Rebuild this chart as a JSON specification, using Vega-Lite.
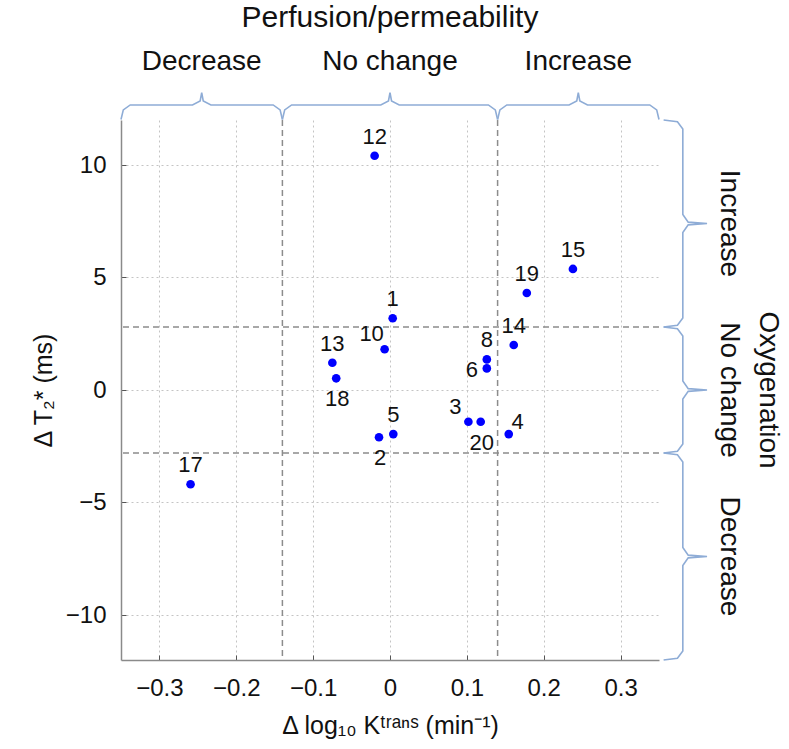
{
  "$schema": "https://vega.github.io/schema/vega-lite/v6.json",
  "width": 538,
  "height": 540,
  "autosize": {"type": "none"},
  "padding": {"left": 121, "top": 120, "right": 130, "bottom": 89},
  "background": "white",
  "config": {"font": "Liberation Sans", "view": {"stroke": null}},
  "datasets": {
    "pts": [
      {"id": "12", "dk": -0.020, "dt2": 10.41, "pos": "top"},
      {"id": "15", "dk": 0.238, "dt2": 5.38, "pos": "top"},
      {"id": "19", "dk": 0.178, "dt2": 4.31, "pos": "top"},
      {"id": "1", "dk": 0.0035, "dt2": 3.19, "pos": "top"},
      {"id": "14", "dk": 0.161, "dt2": 2.0, "pos": "top"},
      {"id": "10", "dk": -0.007, "dt2": 1.81, "pos": "topleft"},
      {"id": "8", "dk": 0.126, "dt2": 1.36, "pos": "top"},
      {"id": "6", "dk": 0.126, "dt2": 0.96, "pos": "left"},
      {"id": "13", "dk": -0.075, "dt2": 1.21, "pos": "top"},
      {"id": "18", "dk": -0.070, "dt2": 0.52, "pos": "bottom"},
      {"id": "3", "dk": 0.102, "dt2": -1.41, "pos": "topleft"},
      {"id": "20", "dk": 0.118, "dt2": -1.41, "pos": "bottom"},
      {"id": "4", "dk": 0.1545, "dt2": -1.96, "pos": "topright"},
      {"id": "5", "dk": 0.0043, "dt2": -1.96, "pos": "top"},
      {"id": "2", "dk": -0.0143, "dt2": -2.10, "pos": "bottom"},
      {"id": "17", "dk": -0.2595, "dt2": -4.19, "pos": "top"}
    ],
    "vthr": [{"dk": -0.14}, {"dk": 0.14}],
    "hthr": [{"dt2": -2.8}, {"dt2": 2.8}],
    "braces": [
      {"b": "T1", "o": 1, "dk": -0.35, "dt2": 12.02},
      {"b": "T1", "o": 2, "dk": -0.347, "dt2": 12.45},
      {"b": "T1", "o": 3, "dk": -0.338, "dt2": 12.67},
      {"b": "T1", "o": 4, "dk": -0.257, "dt2": 12.67},
      {"b": "T1", "o": 5, "dk": -0.247, "dt2": 12.85},
      {"b": "T1", "o": 6, "dk": -0.245, "dt2": 13.22},
      {"b": "T1", "o": 7, "dk": -0.243, "dt2": 12.85},
      {"b": "T1", "o": 8, "dk": -0.233, "dt2": 12.67},
      {"b": "T1", "o": 9, "dk": -0.152, "dt2": 12.67},
      {"b": "T1", "o": 10, "dk": -0.143, "dt2": 12.45},
      {"b": "T1", "o": 11, "dk": -0.14, "dt2": 12.02},
      {"b": "T2", "o": 1, "dk": -0.14, "dt2": 12.02},
      {"b": "T2", "o": 2, "dk": -0.137, "dt2": 12.45},
      {"b": "T2", "o": 3, "dk": -0.128, "dt2": 12.67},
      {"b": "T2", "o": 4, "dk": -0.012, "dt2": 12.67},
      {"b": "T2", "o": 5, "dk": -0.002, "dt2": 12.85},
      {"b": "T2", "o": 6, "dk": 0, "dt2": 13.22},
      {"b": "T2", "o": 7, "dk": 0.002, "dt2": 12.85},
      {"b": "T2", "o": 8, "dk": 0.012, "dt2": 12.67},
      {"b": "T2", "o": 9, "dk": 0.128, "dt2": 12.67},
      {"b": "T2", "o": 10, "dk": 0.137, "dt2": 12.45},
      {"b": "T2", "o": 11, "dk": 0.14, "dt2": 12.02},
      {"b": "T3", "o": 1, "dk": 0.14, "dt2": 12.02},
      {"b": "T3", "o": 2, "dk": 0.143, "dt2": 12.45},
      {"b": "T3", "o": 3, "dk": 0.152, "dt2": 12.67},
      {"b": "T3", "o": 4, "dk": 0.233, "dt2": 12.67},
      {"b": "T3", "o": 5, "dk": 0.243, "dt2": 12.85},
      {"b": "T3", "o": 6, "dk": 0.245, "dt2": 13.22},
      {"b": "T3", "o": 7, "dk": 0.247, "dt2": 12.85},
      {"b": "T3", "o": 8, "dk": 0.257, "dt2": 12.67},
      {"b": "T3", "o": 9, "dk": 0.338, "dt2": 12.67},
      {"b": "T3", "o": 10, "dk": 0.347, "dt2": 12.45},
      {"b": "T3", "o": 11, "dk": 0.35, "dt2": 12.02},
      {"b": "R1", "o": 1, "dk": 0.356, "dt2": 12.0},
      {"b": "R1", "o": 2, "dk": 0.374, "dt2": 11.92},
      {"b": "R1", "o": 3, "dk": 0.381, "dt2": 11.6},
      {"b": "R1", "o": 4, "dk": 0.381, "dt2": 7.8},
      {"b": "R1", "o": 5, "dk": 0.388, "dt2": 7.46},
      {"b": "R1", "o": 6, "dk": 0.4125, "dt2": 7.4},
      {"b": "R1", "o": 7, "dk": 0.388, "dt2": 7.34},
      {"b": "R1", "o": 8, "dk": 0.381, "dt2": 7.0},
      {"b": "R1", "o": 9, "dk": 0.381, "dt2": 3.2},
      {"b": "R1", "o": 10, "dk": 0.374, "dt2": 2.88},
      {"b": "R1", "o": 11, "dk": 0.356, "dt2": 2.8},
      {"b": "R2", "o": 1, "dk": 0.356, "dt2": 2.8},
      {"b": "R2", "o": 2, "dk": 0.374, "dt2": 2.72},
      {"b": "R2", "o": 3, "dk": 0.381, "dt2": 2.4},
      {"b": "R2", "o": 4, "dk": 0.381, "dt2": 0.4},
      {"b": "R2", "o": 5, "dk": 0.388, "dt2": 0.06},
      {"b": "R2", "o": 6, "dk": 0.4125, "dt2": 0},
      {"b": "R2", "o": 7, "dk": 0.388, "dt2": -0.06},
      {"b": "R2", "o": 8, "dk": 0.381, "dt2": -0.4},
      {"b": "R2", "o": 9, "dk": 0.381, "dt2": -2.4},
      {"b": "R2", "o": 10, "dk": 0.374, "dt2": -2.72},
      {"b": "R2", "o": 11, "dk": 0.356, "dt2": -2.8},
      {"b": "R3", "o": 1, "dk": 0.356, "dt2": -2.8},
      {"b": "R3", "o": 2, "dk": 0.374, "dt2": -2.88},
      {"b": "R3", "o": 3, "dk": 0.381, "dt2": -3.2},
      {"b": "R3", "o": 4, "dk": 0.381, "dt2": -7.0},
      {"b": "R3", "o": 5, "dk": 0.388, "dt2": -7.34},
      {"b": "R3", "o": 6, "dk": 0.4125, "dt2": -7.4},
      {"b": "R3", "o": 7, "dk": 0.388, "dt2": -7.46},
      {"b": "R3", "o": 8, "dk": 0.381, "dt2": -7.8},
      {"b": "R3", "o": 9, "dk": 0.381, "dt2": -11.6},
      {"b": "R3", "o": 10, "dk": 0.374, "dt2": -11.92},
      {"b": "R3", "o": 11, "dk": 0.356, "dt2": -12.0}
    ],
    "toplabels": [
      {"name": "Decrease", "dk": -0.245, "dt2": 14.6},
      {"name": "No change", "dk": 0, "dt2": 14.6},
      {"name": "Increase", "dk": 0.245, "dt2": 14.6}
    ],
    "toptitle": [
      {"name": "Perfusion/permeability", "dk": 0, "dt2": 16.55}
    ],
    "rightlabels": [
      {"name": "Increase", "dk": 0.441, "dt2": 7.4},
      {"name": "No change", "dk": 0.441, "dt2": 0},
      {"name": "Decrease", "dk": 0.441, "dt2": -7.4},
      {"name": "Oxygenation", "dk": 0.492, "dt2": 0}
    ]
  },
  "layer": [
    {
      "data": {"name": "pts"},
      "mark": {"type": "circle", "color": "#0000ff", "opacity": 0},
      "encoding": {
        "x": {
          "field": "dk", "type": "quantitative",
          "scale": {"domain": [-0.35, 0.35], "nice": false, "zero": false},
          "axis": {
            "title": "Δ log₁₀ Kᵗʳᵃⁿˢ (min⁻¹)",
            "values": [-0.3, -0.2, -0.1, 0, 0.1, 0.2, 0.3],
            "labelExpr": "datum.value == 0 ? '0' : format(datum.value, '.1f')",
            "grid": true, "gridColor": "#c4c4c4", "gridDash": [2, 3], "gridWidth": 1,
            "domainColor": "#8a8a8a", "domainWidth": 1.5,
            "tickColor": "#555555", "tickSize": -5,
            "labelFontSize": 24, "labelColor": "#111111", "labelPadding": 21,
            "titleFontSize": 25, "titleFontWeight": "normal", "titleColor": "#111111", "titlePadding": 13
          }
        },
        "y": {
          "field": "dt2", "type": "quantitative",
          "scale": {"domain": [-12, 12], "nice": false, "zero": false},
          "axis": {
            "title": "Δ T₂* (ms)",
            "values": [-10, -5, 0, 5, 10],
            "format": "d",
            "grid": true, "gridColor": "#c4c4c4", "gridDash": [2, 3], "gridWidth": 1,
            "domainColor": "#8a8a8a", "domainWidth": 1.5,
            "tickColor": "#555555", "tickSize": -5,
            "labelFontSize": 24, "labelColor": "#111111", "labelPadding": 20,
            "titleFontSize": 25, "titleFontWeight": "normal", "titleColor": "#111111", "titlePadding": 9
          }
        }
      }
    },
    {
      "data": {"name": "vthr"},
      "mark": {"type": "rule", "color": "#8c8c8c", "strokeDash": [6, 4], "strokeWidth": 1.5},
      "encoding": {
        "x": {"field": "dk", "type": "quantitative", "scale": {"domain": [-0.35, 0.35], "nice": false, "zero": false}}
      }
    },
    {
      "data": {"name": "hthr"},
      "mark": {"type": "rule", "color": "#8c8c8c", "strokeDash": [6, 4], "strokeWidth": 1.5},
      "encoding": {
        "y": {"field": "dt2", "type": "quantitative", "scale": {"domain": [-12, 12], "nice": false, "zero": false}}
      }
    },
    {
      "data": {"name": "pts"},
      "mark": {"type": "circle", "color": "#0000ff", "opacity": 1, "size": 75},
      "encoding": {
        "x": {"field": "dk", "type": "quantitative", "scale": {"domain": [-0.35, 0.35], "nice": false, "zero": false}},
        "y": {"field": "dt2", "type": "quantitative", "scale": {"domain": [-12, 12], "nice": false, "zero": false}}
      }
    },
    {
      "data": {"name": "pts"},
      "transform": [{"filter": "datum.pos == 'top'"}],
      "mark": {"type": "text", "fontSize": 22, "color": "#111111", "baseline": "middle", "align": "center", "dy": -19},
      "encoding": {
        "x": {"field": "dk", "type": "quantitative", "scale": {"domain": [-0.35, 0.35], "nice": false, "zero": false}},
        "y": {"field": "dt2", "type": "quantitative", "scale": {"domain": [-12, 12], "nice": false, "zero": false}},
        "text": {"field": "id"}
      }
    },
    {
      "data": {"name": "pts"},
      "transform": [{"filter": "datum.pos == 'bottom'"}],
      "mark": {"type": "text", "fontSize": 22, "color": "#111111", "baseline": "middle", "align": "center", "dy": 21, "dx": 1},
      "encoding": {
        "x": {"field": "dk", "type": "quantitative", "scale": {"domain": [-0.35, 0.35], "nice": false, "zero": false}},
        "y": {"field": "dt2", "type": "quantitative", "scale": {"domain": [-12, 12], "nice": false, "zero": false}},
        "text": {"field": "id"}
      }
    },
    {
      "data": {"name": "pts"},
      "transform": [{"filter": "datum.pos == 'topleft'"}],
      "mark": {"type": "text", "fontSize": 22, "color": "#111111", "baseline": "middle", "align": "center", "dy": -15, "dx": -13},
      "encoding": {
        "x": {"field": "dk", "type": "quantitative", "scale": {"domain": [-0.35, 0.35], "nice": false, "zero": false}},
        "y": {"field": "dt2", "type": "quantitative", "scale": {"domain": [-12, 12], "nice": false, "zero": false}},
        "text": {"field": "id"}
      }
    },
    {
      "data": {"name": "pts"},
      "transform": [{"filter": "datum.pos == 'left'"}],
      "mark": {"type": "text", "fontSize": 22, "color": "#111111", "baseline": "middle", "align": "center", "dy": 2, "dx": -15},
      "encoding": {
        "x": {"field": "dk", "type": "quantitative", "scale": {"domain": [-0.35, 0.35], "nice": false, "zero": false}},
        "y": {"field": "dt2", "type": "quantitative", "scale": {"domain": [-12, 12], "nice": false, "zero": false}},
        "text": {"field": "id"}
      }
    },
    {
      "data": {"name": "pts"},
      "transform": [{"filter": "datum.pos == 'topright'"}],
      "mark": {"type": "text", "fontSize": 22, "color": "#111111", "baseline": "middle", "align": "center", "dy": -12, "dx": 9},
      "encoding": {
        "x": {"field": "dk", "type": "quantitative", "scale": {"domain": [-0.35, 0.35], "nice": false, "zero": false}},
        "y": {"field": "dt2", "type": "quantitative", "scale": {"domain": [-12, 12], "nice": false, "zero": false}},
        "text": {"field": "id"}
      }
    },
    {
      "data": {"name": "braces"},
      "mark": {"type": "line", "color": "#8eacd6", "strokeWidth": 1.6, "clip": false},
      "encoding": {
        "x": {"field": "dk", "type": "quantitative", "scale": {"domain": [-0.35, 0.35], "nice": false, "zero": false}},
        "y": {"field": "dt2", "type": "quantitative", "scale": {"domain": [-12, 12], "nice": false, "zero": false}},
        "detail": {"field": "b"},
        "order": {"field": "o", "type": "quantitative"}
      }
    },
    {
      "data": {"name": "toplabels"},
      "mark": {"type": "text", "fontSize": 28, "color": "#111111", "baseline": "middle", "align": "center"},
      "encoding": {
        "x": {"field": "dk", "type": "quantitative", "scale": {"domain": [-0.35, 0.35], "nice": false, "zero": false}},
        "y": {"field": "dt2", "type": "quantitative", "scale": {"domain": [-12, 12], "nice": false, "zero": false}},
        "text": {"field": "name"}
      }
    },
    {
      "data": {"name": "toptitle"},
      "mark": {"type": "text", "fontSize": 30, "color": "#111111", "baseline": "middle", "align": "center"},
      "encoding": {
        "x": {"field": "dk", "type": "quantitative", "scale": {"domain": [-0.35, 0.35], "nice": false, "zero": false}},
        "y": {"field": "dt2", "type": "quantitative", "scale": {"domain": [-12, 12], "nice": false, "zero": false}},
        "text": {"field": "name"}
      }
    },
    {
      "data": {"name": "rightlabels"},
      "mark": {"type": "text", "fontSize": 28, "color": "#111111", "baseline": "middle", "align": "center", "angle": 90},
      "encoding": {
        "x": {"field": "dk", "type": "quantitative", "scale": {"domain": [-0.35, 0.35], "nice": false, "zero": false}},
        "y": {"field": "dt2", "type": "quantitative", "scale": {"domain": [-12, 12], "nice": false, "zero": false}},
        "text": {"field": "name"}
      }
    }
  ]
}
